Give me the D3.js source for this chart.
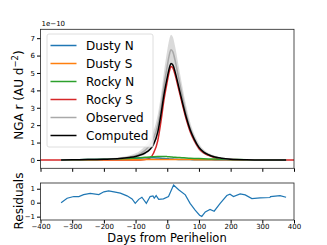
<!DOCTYPE html>
<html>
<head>
<meta charset="utf-8">
<script src="https://cdn.jsdelivr.net/npm/d3@7"></script>
<style>
  body { margin: 0; background: #fff; }
  text { font-family: "DejaVu Sans", sans-serif; }
</style>
</head>
<body>
<svg width="327" height="245"></svg>
<script>
// days from perihelion for the model curves
var days = [-335,-300,-250,-200,-150,-120,-100,-85,-70,-55,-43,-30,-20,-10,0,6,12,18,25,35,46,60,72,85,100,115,130,150,170,200,250,300,375];

// NGA values, units of 1e-10 AU d^-2
var dustyN   = [0,0.01,0.02,0.04,0.07,0.09,0.1,0.11,0.12,0.12,0.12,0.11,0.1,0.08,0.07,0.06,0.05,0.05,0.04,0.03,0.03,0.02,0.02,0.01,0.01,0.01,0.01,0,0,0,0,0,0];
var dustyS   = [0,0,0.002,0.005,0.01,0.013,0.015,0.018,0.02,0.025,0.027,0.028,0.03,0.03,0.03,0.03,0.03,0.03,0.028,0.027,0.025,0.022,0.02,0.018,0.015,0.012,0.01,0.008,0.007,0.005,0.002,0,0];
var rockyN   = [0,0.01,0.02,0.04,0.07,0.09,0.11,0.13,0.15,0.17,0.19,0.2,0.2,0.2,0.19,0.18,0.17,0.16,0.15,0.14,0.13,0.11,0.1,0.09,0.08,0.07,0.06,0.05,0.04,0.03,0.01,0,0];
var rockyS   = [0,0,0,0,0,0,0,0,0.02,0.1,0.4,1.1,2.2,3.5,4.5,5.05,5.37,5.28,4.88,4.15,3.32,2.33,1.65,1.12,0.66,0.4,0.26,0.13,0.07,0.02,0,0,0];
var computed = [0,0.01,0.02,0.04,0.08,0.14,0.2,0.28,0.4,0.6,0.9,1.6,2.6,3.8,4.75,5.25,5.55,5.45,5.05,4.3,3.45,2.45,1.75,1.2,0.72,0.45,0.3,0.17,0.1,0.04,0.01,0,0];
var observed = [0,0.01,0.02,0.04,0.09,0.16,0.24,0.36,0.55,0.85,1.25,2.0,3.0,4.3,5.4,6.0,6.33,6.2,5.7,4.8,3.8,2.65,1.85,1.25,0.75,0.47,0.31,0.18,0.1,0.04,0.01,0,0];
var obsHi    = [0.02,0.03,0.05,0.08,0.15,0.26,0.38,0.55,0.8,1.2,1.7,2.6,3.7,5.1,6.3,6.9,7.2,7.05,6.5,5.5,4.4,3.1,2.2,1.5,0.95,0.6,0.4,0.24,0.14,0.06,0.02,0.01,0.01];
var obsLo    = [0,0,0,0.01,0.04,0.08,0.12,0.2,0.32,0.52,0.8,1.4,2.3,3.5,4.5,5.1,5.45,5.35,4.9,4.1,3.2,2.2,1.5,1.0,0.55,0.34,0.22,0.12,0.06,0.02,0,0,0];

// rocky S baseline reaches the axis edges
var edgeDays = [-400, 400];

// residuals
var resDays = [-335,-316,-295,-279,-264,-243,-216,-200,-185,-164,-148,-127,-111,-101,-90,-80,-66,-54,-45,-41,-35,-27,-12,4,20,36,57,72,88,102,109,120,135,148,167,188,198,209,230,246,267,293,324,326,356,375];
var resVals = [0,0.32,0.44,0.44,0.58,0.66,0.58,0.78,0.85,0.76,0.68,0.49,0.27,-0.05,0.24,0.39,-0.05,0.44,0.49,0.32,0.51,0.24,0.27,0.44,1.27,0.93,0.56,-0.05,-0.54,-0.9,-0.98,-0.66,-0.49,-0.61,-0.05,0.51,0.61,0.44,0.63,0.56,0.29,0.34,0.37,0.44,0.51,0.39];

var xTicks = [-400,-300,-200,-100,0,100,200,300,400];
var yTicks = [0,1,2,3,4,5,6,7];
var resTicks = [-1,0,1];

var legendNames = ["Dusty N","Dusty S","Rocky N","Rocky S","Observed","Computed"];
var legendColors = ["#1f77b4","#ff7f0e","#2ca02c","#d62728","#a9a9a9","#000000"];

var svg = d3.select("svg");
var left = 40.5, right = 294;

var x = d3.scaleLinear().domain([-400, 400]).range([left, right]);
var y = d3.scaleLinear().domain([-0.48, 7.51]).range([168.3, 29.3]);
var yr = d3.scaleLinear().domain([-1.24, 1.41]).range([220, 183]);

function series(vals) {
  return days.map(function(d, i){ return [d, vals[i]]; });
}

var line = d3.line()
  .x(function(d){ return x(d[0]); })
  .y(function(d){ return y(d[1]); })
  .curve(d3.curveMonotoneX);

var topPanel = svg.append("g");

// observed band
var area = d3.area()
  .x(function(d, i){ return x(days[i]); })
  .y0(function(d, i){ return y(obsLo[i]); })
  .y1(function(d, i){ return y(obsHi[i]); })
  .curve(d3.curveMonotoneX);
topPanel.append("path").datum(days).attr("d", area)
  .attr("fill", "#d3d3d3").attr("opacity", 0.85);

var redPts = [[edgeDays[0], 0]].concat(series(rockyS)).concat([[edgeDays[1], 0]]);
topPanel.append("path").datum(redPts).attr("d", line)
  .attr("fill", "none").attr("stroke", legendColors[3]).attr("stroke-width", 1.5);

[dustyN, dustyS, rockyN].forEach(function(vals, i){
  topPanel.append("path").datum(series(vals)).attr("d", line)
    .attr("fill", "none").attr("stroke", legendColors[i]).attr("stroke-width", 1.5);
});

topPanel.append("path").datum(series(observed)).attr("d", line)
  .attr("fill", "none").attr("stroke", legendColors[4]).attr("stroke-width", 1.5);
topPanel.append("path").datum(series(computed)).attr("d", line)
  .attr("fill", "none").attr("stroke", "#000").attr("stroke-width", 1.5);

// top axes
svg.append("g").attr("transform", "translate(0,168.3)")
  .call(d3.axisBottom(x).tickValues(xTicks).tickSize(3.5).tickFormat(""))
  .call(function(g){ g.select(".domain").remove(); });
svg.append("g").attr("transform", "translate(" + left + ",0)")
  .call(d3.axisLeft(y).tickValues(yTicks).tickSize(3.5).tickPadding(2))
  .call(function(g){ g.select(".domain").remove(); g.selectAll("text").attr("font-size", 7); });
svg.append("rect").attr("x", left).attr("y", 29.3).attr("width", right - left).attr("height", 139)
  .attr("fill", "none").attr("stroke", "#222").attr("stroke-width", 0.8);
svg.append("text").attr("x", left + 1).attr("y", 26).attr("font-size", 7).text("1e\u221210");

// legend
var lg = svg.append("g");
lg.append("rect").attr("x", 47).attr("y", 34).attr("width", 106).attr("height", 113).attr("rx", 2)
  .attr("fill", "rgba(255,255,255,0.8)").attr("stroke", "#d5d5d5").attr("stroke-width", 0.8);
legendNames.forEach(function(name, i){
  var cy = 45.5 + i * 18;
  lg.append("line").attr("x1", 50.5).attr("x2", 76.5).attr("y1", cy).attr("y2", cy)
    .attr("stroke", legendColors[i]).attr("stroke-width", 1.5);
  lg.append("text").attr("x", 86).attr("y", cy).attr("dy", "0.36em").attr("font-size", 12).text(name);
});

// y label top
svg.append("text").attr("transform", "translate(23,95) rotate(-90)").attr("text-anchor", "middle")
  .attr("font-size", 12)
  .html('NGA r (AU d<tspan dy="-5" font-size="8.5">\u22122</tspan><tspan dy="5">)</tspan>');

// residual panel
var rline = d3.line()
  .x(function(d, i){ return x(resDays[i]); })
  .y(function(d){ return yr(d); });
svg.append("path").datum(resVals).attr("d", rline)
  .attr("fill", "none").attr("stroke", "#1f77b4").attr("stroke-width", 1.2);

svg.append("g").attr("transform", "translate(0,220)")
  .call(d3.axisBottom(x).tickValues(xTicks).tickSize(3.5).tickPadding(1).tickFormat(function(d){ return d < 0 ? "\u2212" + (-d) : d; }))
  .call(function(g){ g.select(".domain").remove(); g.selectAll("text").attr("font-size", 7); });
svg.append("g").attr("transform", "translate(" + left + ",0)")
  .call(d3.axisLeft(yr).tickValues(resTicks).tickSize(3.5).tickPadding(2).tickFormat(function(d){ return d < 0 ? "\u2212" + (-d) : d; }))
  .call(function(g){ g.select(".domain").remove(); g.selectAll("text").attr("font-size", 7); });
svg.append("rect").attr("x", left).attr("y", 183).attr("width", right - left).attr("height", 37)
  .attr("fill", "none").attr("stroke", "#222").attr("stroke-width", 0.8);

svg.append("text").attr("transform", "translate(23,201) rotate(-90)").attr("text-anchor", "middle")
  .attr("font-size", 12).text("Residuals");
svg.append("text").attr("x", 167).attr("y", 241.5).attr("text-anchor", "middle")
  .attr("font-size", 11.5).text("Days from Perihelion");
</script>
</body>
</html>
